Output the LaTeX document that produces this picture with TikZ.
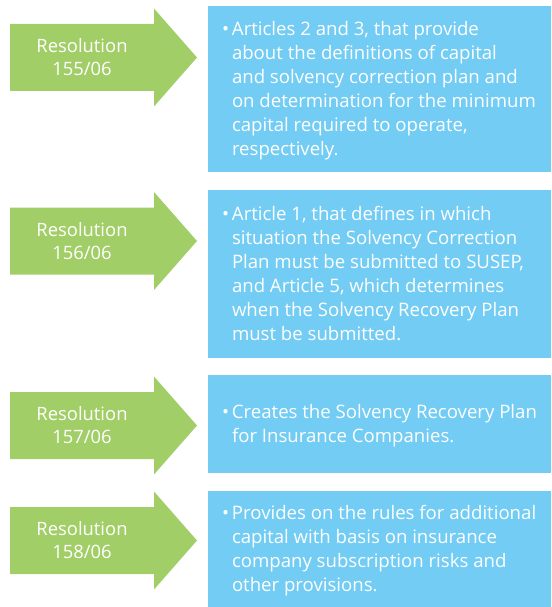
\documentclass[tikz,border=0pt]{standalone}
\usepackage{fontspec}
\setmainfont{Open Sans}
\definecolor{argreen}{RGB}{162,206,104}
\definecolor{bxblue}{RGB}{114,204,243}
\newcommand\resarrow[1]{%
  \fill[argreen] (10,{#1-33.5}) -- (154,{#1-33.5}) -- (154,{#1-49}) -- (197,#1)
    -- (154,{#1+49}) -- (154,{#1+33.5}) -- (10,{#1+33.5}) -- cycle;}
\newcommand\bul{\strut\makebox[10pt][l]{•}}
\newcommand\ind{\strut\hspace*{10pt}}
\begin{document}
\begin{tikzpicture}[x=1pt,y=-1pt,
  lbl/.style={text=white, align=center, inner sep=0pt, font=\fontsize{18.4}{23}\selectfont},
  bluebox/.style={fill=bxblue, draw=none, inner sep=0pt, minimum width=343pt},
  btext/.style={text=white, align=left, inner sep=0pt, anchor=west, font=\fontsize{18.6}{24}\selectfont}]
\useasboundingbox (0,0) rectangle (551,607);
% arrows
\resarrow{57.5}
\resarrow{241}
\resarrow{425.5}
\resarrow{540.5}
\node[lbl] (a1) at (82,57.5) {Resolution\\155/06};
\node[lbl] (a2) at (82,241) {Resolution\\156/06};
\node[lbl] (a3) at (82,425.5) {Resolution\\157/06};
\node[lbl] (a4) at (82,540.5) {Resolution\\158/06};
% boxes
\node[bluebox, minimum height=166pt] (b1) at (379.5,89) {};
\node[bluebox, minimum height=168pt] (b2) at (379.5,274) {};
\node[bluebox, minimum height=98pt] (b3) at (379.5,424) {};
\node[bluebox, minimum height=116pt] (b4) at (379.5,549) {};
\node[btext] (t1) at ([xshift=14pt,yshift=-2pt]b1.west) {\bul Articles 2 and 3, that provide\\
\ind about the definitions of capital\\
\ind and solvency correction plan and\\
\ind on determination for the minimum\\
\ind capital required to operate,\\
\ind respectively.};
\node[btext] (t2) at ([xshift=14pt,yshift=-2pt]b2.west) {\bul Article 1, that defines in which\\
\ind situation the Solvency Correction\\
\ind Plan must be submitted to SUSEP,\\
\ind and Article 5, which determines\\
\ind when the Solvency Recovery Plan\\
\ind must be submitted.};
\node[btext] (t3) at ([xshift=14pt,yshift=-2pt]b3.west) {\bul Creates the Solvency Recovery Plan\\
\ind for Insurance Companies.};
\node[btext] (t4) at ([xshift=14pt,yshift=-2pt]b4.west) {\bul Provides on the rules for additional\\
\ind capital with basis on insurance\\
\ind company subscription risks and\\
\ind other provisions.};
\end{tikzpicture}
\end{document}
